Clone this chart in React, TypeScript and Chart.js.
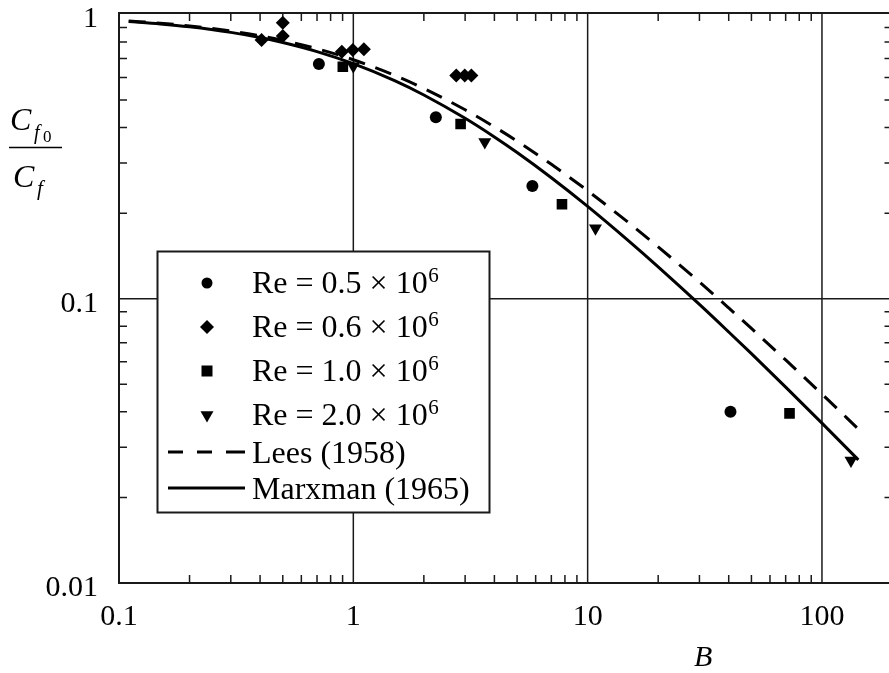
import { useEffect, useRef } from 'react';
import { Chart, registerables } from 'chart.js';

Chart.register(...registerables);

const FONT = '"Liberation Serif", "Times New Roman", serif';

// Curves (B vs Cf0/Cf ratio)
const curveB = [0.11, 0.15, 0.2, 0.3, 0.4, 0.5, 0.7, 1, 1.5, 2, 3, 4, 5, 7, 10, 15, 20, 30, 40, 50, 70, 100, 143];
const leesValues = [0.9487, 0.9318, 0.9116, 0.8745, 0.8412, 0.8109, 0.758, 0.6931, 0.6109, 0.5493, 0.4621, 0.4024, 0.3584, 0.2971, 0.2398, 0.1848, 0.1522, 0.1145, 0.0928, 0.0786, 0.0609, 0.0462, 0.0348];
const marxmanValues = [0.9446, 0.9264, 0.9047, 0.8649, 0.8292, 0.7968, 0.7404, 0.6716, 0.5851, 0.5209, 0.4312, 0.3707, 0.3268, 0.2665, 0.2113, 0.1595, 0.1295, 0.0955, 0.0764, 0.0641, 0.0489, 0.0365, 0.0271];

// Experimental points
const re05B = [0.713, 2.25, 5.81, 40.7];
const re05Y = [0.669, 0.435, 0.249, 0.04];
const re06B = [0.406, 0.5, 0.5, 0.893, 0.995, 1.109, 2.75, 2.99, 3.19];
const re06Y = [0.813, 0.936, 0.84, 0.74, 0.75, 0.754, 0.61, 0.61, 0.61];
const re10B = [0.902, 2.87, 7.77, 72.7];
const re10Y = [0.655, 0.412, 0.215, 0.0395];
const re20B = [1.0, 3.64, 10.8, 133];
const re20Y = [0.657, 0.356, 0.177, 0.027];

// Axes
const xMin = 0.1;
const xMax = 200;
const yMin = 0.01;
const yMax = 1.012;
const xTickValues = [0.1, 1, 10, 100];
const xTickLabels = ['0.1', '1', '10', '100'];
const yTickValues = [0.01, 0.1, 1];
const yTickLabels = ['0.01', '0.1', '1'];
const xMajorGrid = [1, 10, 100];
const yMajorGrid = [0.1];
const xDecades = [0.1, 1, 10, 100];
const yDecades = [0.01, 0.1];

const legendLabels = ['Re = 0.5 \u00d7 10', 'Re = 0.6 \u00d7 10', 'Re = 1.0 \u00d7 10', 'Re = 2.0 \u00d7 10'];
const legendSup = '6';
const legendLines = ['Lees (1958)', 'Marxman (1965)'];
const markerKinds = ['circle', 'diamond', 'square', 'triangle'];

const toXY = (xs: number[], ys: number[]) => xs.map((x, i) => ({ x, y: ys[i] }));

function drawMarker(ctx: CanvasRenderingContext2D, kind: string, x: number, y: number) {
  ctx.beginPath();
  if (kind === 'circle') {
    ctx.arc(x, y, 5.5, 0, Math.PI * 2);
  } else if (kind === 'diamond') {
    const r = 7;
    ctx.moveTo(x, y - r);
    ctx.lineTo(x + r, y);
    ctx.lineTo(x, y + r);
    ctx.lineTo(x - r, y);
    ctx.closePath();
  } else if (kind === 'square') {
    ctx.rect(x - 5.5, y - 5.5, 11, 11);
  } else {
    const r = 7.5;
    const s = r * Math.sin(Math.PI / 3);
    ctx.moveTo(x, y + r);
    ctx.lineTo(x - s, y - r / 2);
    ctx.lineTo(x + s, y - r / 2);
    ctx.closePath();
  }
  ctx.fill();
}

const framePlugin = {
  id: 'frameAndLabels',
  beforeDraw(chart: any) {
    const ctx = chart.ctx;
    ctx.save();
    ctx.fillStyle = '#ffffff';
    ctx.fillRect(0, 0, chart.width, chart.height);
    ctx.restore();
  },
  beforeDatasetsDraw(chart: any) {
    const { ctx, chartArea: a, scales } = chart;
    const xs = scales.x;
    const ys = scales.y;
    ctx.save();
    ctx.strokeStyle = '#1a1a1a';
    ctx.lineWidth = 1.5;
    ctx.beginPath();
    for (const v of xMajorGrid) {
      const px = xs.getPixelForValue(v);
      ctx.moveTo(px, a.top);
      ctx.lineTo(px, a.bottom);
    }
    for (const v of yMajorGrid) {
      const py = ys.getPixelForValue(v);
      ctx.moveTo(a.left, py);
      ctx.lineTo(a.right, py);
    }
    ctx.stroke();
    // minor ticks, inward
    ctx.lineWidth = 1.5;
    ctx.beginPath();
    const tl = 8;
    for (const d of xDecades) {
      for (let k = 2; k <= 9; k++) {
        const v = k * d;
        if (v >= xMax) continue;
        const px = xs.getPixelForValue(v);
        ctx.moveTo(px, a.bottom);
        ctx.lineTo(px, a.bottom - tl);
        ctx.moveTo(px, a.top);
        ctx.lineTo(px, a.top + tl);
      }
    }
    for (const d of yDecades) {
      for (let k = 2; k <= 9; k++) {
        const v = k * d;
        if (v >= yMax) continue;
        const py = ys.getPixelForValue(v);
        ctx.moveTo(a.left, py);
        ctx.lineTo(a.left + tl, py);
        ctx.moveTo(a.right, py);
        ctx.lineTo(a.right - tl, py);
      }
    }
    ctx.stroke();
    ctx.restore();
  },
  afterDatasetsDraw(chart: any) {
    const { ctx, chartArea: a, scales } = chart;
    const xs = scales.x;
    const ys = scales.y;
    ctx.save();
    // frame
    ctx.strokeStyle = '#1a1a1a';
    ctx.lineWidth = 2;
    ctx.strokeRect(a.left, a.top, a.right - a.left, a.bottom - a.top);

    // tick labels
    ctx.fillStyle = '#000';
    ctx.font = `30px ${FONT}`;
    ctx.textAlign = 'right';
    ctx.textBaseline = 'alphabetic';
    yTickValues.forEach((v, i) => {
      const py = ys.getPixelForValue(v);
      const base = v >= 1 ? Math.max(py + 13, 26) : py + 13;
      ctx.fillText(yTickLabels[i], 98, base);
    });
    ctx.textAlign = 'center';
    xTickValues.forEach((v, i) => {
      const px = xs.getPixelForValue(v);
      ctx.fillText(xTickLabels[i], px, 625);
    });

    // x title
    ctx.font = `italic 30px ${FONT}`;
    ctx.textAlign = 'left';
    ctx.fillText('B', 694, 666);

    // y title: C_f0 / C_f
    ctx.font = `italic 32px ${FONT}`;
    ctx.fillText('C', 10, 130);
    ctx.font = `italic 20px ${FONT}`;
    ctx.fillText('f', 34, 139);
    ctx.font = `17px ${FONT}`;
    ctx.fillText('0', 43, 142);
    ctx.lineWidth = 1.6;
    ctx.strokeStyle = '#000';
    ctx.beginPath();
    ctx.moveTo(9, 147.5);
    ctx.lineTo(62, 147.5);
    ctx.stroke();
    ctx.font = `italic 32px ${FONT}`;
    ctx.fillText('C', 13, 187);
    ctx.font = `italic 21px ${FONT}`;
    ctx.fillText('f', 37, 195);

    // legend box
    const bx = 157.5, by = 251.5, bw = 332, bh = 261;
    ctx.fillStyle = '#ffffff';
    ctx.fillRect(bx, by, bw, bh);
    ctx.strokeStyle = '#1a1a1a';
    ctx.lineWidth = 2;
    ctx.strokeRect(bx, by, bw, bh);

    const baselines = [293, 337, 381, 425];
    ctx.fillStyle = '#000';
    legendLabels.forEach((lab, i) => {
      drawMarker(ctx, markerKinds[i], 207, baselines[i] - 10);
      ctx.font = `32px ${FONT}`;
      ctx.textAlign = 'left';
      ctx.fillText(lab, 252, baselines[i]);
      const w = ctx.measureText(lab).width;
      ctx.font = `21px ${FONT}`;
      ctx.fillText(legendSup, 252 + w + 0.5, baselines[i] - 11);
    });
    // Lees dashed sample
    const lineBase = [463, 499];
    ctx.strokeStyle = '#000';
    ctx.lineWidth = 3;
    ctx.beginPath();
    const ly = lineBase[0] - 11;
    [[168, 183], [197, 212], [226, 245]].forEach(([s, e]) => {
      ctx.moveTo(s, ly);
      ctx.lineTo(e, ly);
    });
    ctx.stroke();
    ctx.beginPath();
    ctx.moveTo(168, lineBase[1] - 11);
    ctx.lineTo(245, lineBase[1] - 11);
    ctx.stroke();
    ctx.font = `32px ${FONT}`;
    ctx.fillText(legendLines[0], 252, lineBase[0]);
    ctx.fillText(legendLines[1], 252, lineBase[1]);
    ctx.restore();
  },
};

export default function App() {
  const ref = useRef<HTMLCanvasElement | null>(null);
  useEffect(() => {
    document.body.style.margin = '0';
    document.body.style.overflow = 'hidden';
    if (!ref.current) return;
    const chart = new Chart(ref.current, {
      type: 'scatter',
      data: {
        datasets: [
          {
            label: 'Lees (1958)',
            data: toXY(curveB, leesValues),
            showLine: true,
            borderColor: '#000',
            borderWidth: 3,
            borderDash: [17, 11],
            pointRadius: 0,
            cubicInterpolationMode: 'monotone',
          } as any,
          {
            label: 'Marxman (1965)',
            data: toXY(curveB, marxmanValues),
            showLine: true,
            borderColor: '#000',
            borderWidth: 3,
            pointRadius: 0,
            cubicInterpolationMode: 'monotone',
          } as any,
          {
            label: 'Re = 0.5 × 10^6',
            data: toXY(re05B, re05Y),
            pointStyle: 'circle',
            pointRadius: 6,
            backgroundColor: '#000',
            borderColor: '#000',
            borderWidth: 0,
          },
          {
            label: 'Re = 0.6 × 10^6',
            data: toXY(re06B, re06Y),
            pointStyle: 'rectRot',
            pointRadius: 7,
            backgroundColor: '#000',
            borderColor: '#000',
            borderWidth: 0,
          },
          {
            label: 'Re = 1.0 × 10^6',
            data: toXY(re10B, re10Y),
            pointStyle: 'rect',
            pointRadius: 7.5,
            backgroundColor: '#000',
            borderColor: '#000',
            borderWidth: 0,
          },
          {
            label: 'Re = 2.0 × 10^6',
            data: toXY(re20B, re20Y),
            pointStyle: 'triangle',
            rotation: 180,
            pointRadius: 7.5,
            backgroundColor: '#000',
            borderColor: '#000',
            borderWidth: 0,
          } as any,
        ],
      },
      options: {
        animation: false,
        responsive: false,
        maintainAspectRatio: false,
        layout: { padding: { left: 119, top: 13, right: 7, bottom: 90 } },
        plugins: { legend: { display: false }, tooltip: { enabled: false } },
        scales: {
          x: { type: 'logarithmic', min: xMin, max: xMax, display: false },
          y: { type: 'logarithmic', min: yMin, max: yMax, display: false },
        },
      },
      plugins: [framePlugin],
    });
    return () => chart.destroy();
  }, []);
  return (
    <div style={{ position: 'fixed', left: 0, top: 0, width: 889, height: 673, overflow: 'hidden', background: '#fff' }}>
      <canvas ref={ref} width={900} height={673} style={{ width: 900, height: 673, display: 'block' }} />
    </div>
  );
}
